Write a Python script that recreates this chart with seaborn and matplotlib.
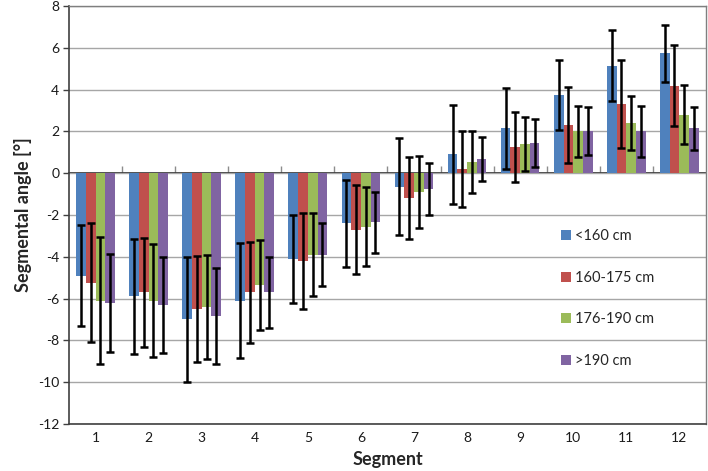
import numpy as np
import pandas as pd
import matplotlib
matplotlib.use("Agg")
import matplotlib.pyplot as plt
import seaborn as sns

# data
segments = [str(i) for i in range(1, 13)]
groups = ["<160 cm", "160-175 cm", "176-190 cm", ">190 cm"]
colors = ["#4F81BD", "#C0504D", "#9BBB59", "#8064A2"]

mean_lt160 = [-4.9, -5.9, -7.0, -6.1, -4.1, -2.4, -0.65, 0.9, 2.15, 3.75, 5.15, 5.75]
mean_160_175 = [-5.25, -5.7, -6.5, -5.7, -4.2, -2.7, -1.2, 0.2, 1.25, 2.3, 3.3, 4.2]
mean_176_190 = [-6.1, -6.1, -6.4, -5.35, -3.9, -2.55, -0.9, 0.55, 1.4, 2.0, 2.4, 2.8]
mean_gt190 = [-6.2, -6.3, -6.85, -5.7, -3.9, -2.35, -0.75, 0.7, 1.45, 2.0, 2.0, 2.15]

sd_lt160 = [2.4, 2.75, 3.0, 2.75, 2.1, 2.1, 2.33, 2.38, 1.95, 1.68, 1.7, 1.37]
sd_160_175 = [2.85, 2.6, 2.55, 2.42, 2.28, 2.13, 1.97, 1.83, 1.67, 1.83, 2.1, 1.94]
sd_176_190 = [3.03, 2.7, 2.5, 2.15, 1.98, 1.88, 1.74, 1.48, 1.27, 1.22, 1.3, 1.42]
sd_gt190 = [2.35, 2.3, 2.3, 1.7, 1.5, 1.47, 1.25, 1.05, 1.15, 1.15, 1.22, 1.02]

means = [mean_lt160, mean_160_175, mean_176_190, mean_gt190]
sds = [sd_lt160, sd_160_175, sd_176_190, sd_gt190]

df = pd.DataFrame({
    "Segment": segments * len(groups),
    "angle": [v for m in means for v in m],
    "group": [g for g in groups for _ in segments],
})

sns.set_theme(style="white")
plt.rcParams["font.family"] = ["Lato", "DejaVu Sans"]
plt.rcParams["axes.unicode_minus"] = False

fig = plt.figure(figsize=(7.08, 4.71), dpi=100)
ax = fig.add_axes([0.0975, 0.100, 0.8995, 0.887])

sns.barplot(data=df, x="Segment", y="angle", hue="group", hue_order=groups,
            palette=colors, width=0.73, errorbar=None, saturation=1,
            linewidth=0, ax=ax, zorder=2)

# error bars (mean +/- sd) on top of each bar
for container, m, s in zip(ax.containers, means, sds):
    xs = [b.get_x() + b.get_width() / 2 for b in container]
    ax.errorbar(xs, m, yerr=s, fmt="none", ecolor="black", elinewidth=1.8,
                capsize=3, capthick=1.8, zorder=3)

ax.set_ylim(-12, 8)
ax.set_xlim(-0.5, 11.5)
ax.set_yticks(np.arange(-12, 9, 2))
ax.yaxis.grid(True, color="#A6A6A6", linewidth=1)
ax.set_axisbelow(True)

for side in ["top", "right"]:
    ax.spines[side].set_color("#7F7F7F")
    ax.spines[side].set_linewidth(1)
for side in ["left", "bottom"]:
    ax.spines[side].set_color("#404040")
    ax.spines[side].set_linewidth(1.2)

ax.tick_params(axis="y", direction="out", length=4, width=1, color="#404040",
               labelsize=10, pad=3, left=True, labelcolor="#1a1a1a")
ax.tick_params(axis="x", length=0, labelsize=10, pad=6, labelcolor="#1a1a1a")

# category axis crossing at zero, with tick marks between groups
zero_ax = ax.secondary_xaxis((0 - (-12)) / 20)
zero_ax.set_xticks(np.arange(0.5, 11, 1))
zero_ax.set_xticklabels([])
zero_ax.tick_params(direction="out", length=5, width=1, color="#8C8C8C")
zero_ax.spines["bottom"].set_color("#A6A6A6")
zero_ax.spines["bottom"].set_linewidth(1)

ax.set_xlabel("Segment", fontsize=13, fontweight="bold", labelpad=5)
ax.set_ylabel("Segmental angle [°]", fontsize=13, fontweight="bold", labelpad=4)

handles, labels = ax.get_legend_handles_labels()
ax.legend(handles, labels, loc="center left", bbox_to_anchor=(0.772, 0.30),
          frameon=False, fontsize=10.5, labelspacing=1.9, handlelength=0.7,
          handleheight=0.7, handletextpad=0.3, borderpad=0, borderaxespad=0)

fig.savefig("out.png", dpi=100)
plt.close(fig)
